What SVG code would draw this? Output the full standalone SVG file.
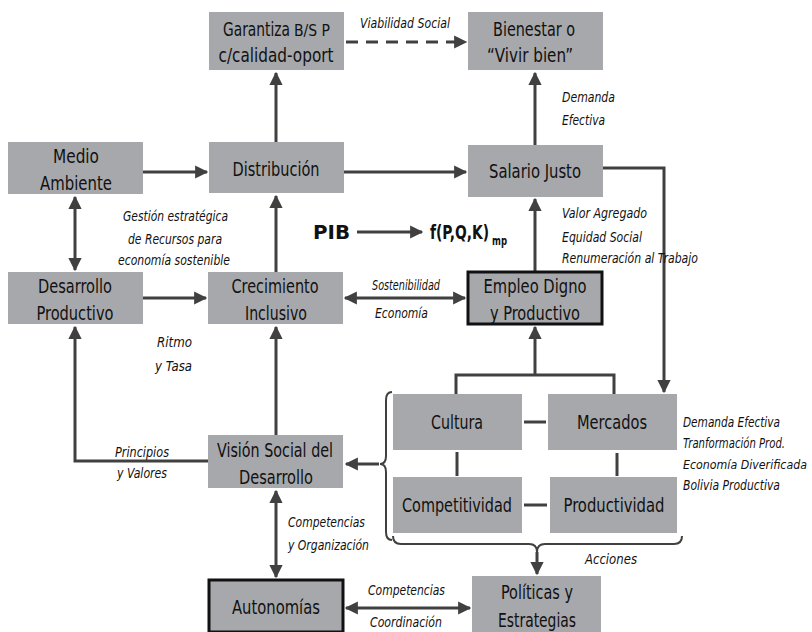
<svg xmlns="http://www.w3.org/2000/svg" width="812" height="632" viewBox="0 0 812 632">
<defs>
<style>
.box{fill:#a7a8ab;}
.thick{stroke:#111;stroke-width:3;}
.bt{font-family:"DejaVu Sans Condensed","DejaVu Sans",sans-serif;font-size:19px;fill:#111;text-anchor:middle;}
.st{text-anchor:start;}
.lb{font-family:"DejaVu Sans Condensed","DejaVu Sans",sans-serif;font-size:13.5px;font-style:italic;fill:#111;}
.bold{font-family:"DejaVu Sans Condensed","DejaVu Sans",sans-serif;font-size:20px;font-weight:bold;fill:#111;}
.ln{fill:none;stroke:#404040;stroke-width:3;}
.br{fill:none;stroke:#404040;stroke-width:2;}
</style>
<marker id="ah" viewBox="0 0 10 10" refX="9" refY="5" markerWidth="5" markerHeight="4.4" orient="auto-start-reverse" markerUnits="strokeWidth">
<path d="M0,0 L10,5 L0,10 Z" fill="#404040"/>
</marker>
</defs>
<rect width="812" height="632" fill="#fff"/>

<g id="connectors">
<line class="ln" x1="346" y1="42" x2="466" y2="42" stroke-dasharray="12,8" marker-end="url(#ah)"/>
<line class="ln" x1="276" y1="142" x2="276" y2="73" marker-end="url(#ah)"/>
<line class="ln" x1="535" y1="145" x2="535" y2="73" marker-end="url(#ah)"/>
<line class="ln" x1="143" y1="172" x2="207" y2="172" marker-end="url(#ah)"/>
<line class="ln" x1="344" y1="172" x2="466" y2="172" marker-end="url(#ah)"/>
<line class="ln" x1="75" y1="197" x2="75" y2="270" marker-start="url(#ah)" marker-end="url(#ah)"/>
<line class="ln" x1="276" y1="272" x2="276" y2="196" marker-end="url(#ah)"/>
<line class="ln" x1="143" y1="298" x2="206" y2="298" marker-end="url(#ah)"/>
<line class="ln" x1="345" y1="298" x2="465" y2="298" marker-start="url(#ah)" marker-end="url(#ah)"/>
<line class="ln" x1="535" y1="271" x2="535" y2="199" marker-end="url(#ah)"/>
<polyline class="ln" points="603,168 664,168 664,392" marker-end="url(#ah)"/>
<line class="ln" x1="357" y1="232" x2="422" y2="232" marker-end="url(#ah)"/>
<line class="ln" x1="535" y1="375" x2="535" y2="327" marker-end="url(#ah)"/>
<polyline class="ln" points="456,394 456,375 614,375 614,394"/>
<line class="ln" x1="524" y1="422" x2="546" y2="422"/>
<line class="ln" x1="457" y1="452" x2="457" y2="476"/>
<line class="ln" x1="617" y1="453" x2="617" y2="476"/>
<line class="ln" x1="524" y1="505" x2="547" y2="505"/>
<path class="br" d="M392,392 Q386,392 386,400 L386,456 Q386,464 380,464 Q386,464 386,472 L386,532 Q386,540 392,540"/>
<line class="ln" x1="379" y1="464" x2="346" y2="464" marker-end="url(#ah)"/>
<path class="br" d="M393,536 Q393,544 401,544 L529,544 Q537,544 537,552 Q537,544 545,544 L674,544 Q682,544 682,536"/>
<line class="ln" x1="537" y1="552" x2="537" y2="574" marker-end="url(#ah)"/>
<line class="ln" x1="276" y1="435" x2="276" y2="327" marker-end="url(#ah)"/>
<polyline class="ln" points="208,461 75,461 75,327" marker-end="url(#ah)"/>
<line class="ln" x1="276" y1="491" x2="276" y2="577" marker-start="url(#ah)" marker-end="url(#ah)"/>
<line class="ln" x1="346" y1="608" x2="470" y2="608" marker-start="url(#ah)" marker-end="url(#ah)"/>
</g>

<g id="garantiza"><rect class="box" x="209" y="12" width="135" height="58"/>
<text class="bt st" x="223" y="36" textLength="67" lengthAdjust="spacingAndGlyphs">Garantiza</text>
<text class="bt st" x="294" y="36" style="font-size:15px" textLength="36" lengthAdjust="spacingAndGlyphs">B/S P</text>
<text class="bt" x="276" y="62" textLength="115" lengthAdjust="spacingAndGlyphs">c/calidad-oport</text></g>
<g id="bienestar"><rect class="box" x="468" y="12" width="135" height="58"/>
<text class="bt" x="534" y="36" textLength="82" lengthAdjust="spacingAndGlyphs">Bienestar o</text>
<text class="bt" x="530" y="62" textLength="86" lengthAdjust="spacingAndGlyphs">“Vivir bien”</text></g>
<g id="medio"><rect class="box" x="8" y="142" width="135" height="52"/>
<text class="bt" x="76" y="163" textLength="46" lengthAdjust="spacingAndGlyphs">Medio</text>
<text class="bt" x="76" y="190" textLength="72" lengthAdjust="spacingAndGlyphs">Ambiente</text></g>
<g id="distribucion"><rect class="box" x="209" y="142" width="135" height="51"/>
<text class="bt" x="276" y="176" textLength="87" lengthAdjust="spacingAndGlyphs">Distribución</text></g>
<g id="salario"><rect class="box" x="468" y="145" width="135" height="52"/>
<text class="bt" x="535" y="178" textLength="92" lengthAdjust="spacingAndGlyphs">Salario Justo</text></g>
<g id="desarrollo"><rect class="box" x="8" y="272" width="135" height="52"/>
<text class="bt" x="75" y="293" textLength="74" lengthAdjust="spacingAndGlyphs">Desarrollo</text>
<text class="bt" x="75" y="320" textLength="77" lengthAdjust="spacingAndGlyphs">Productivo</text></g>
<g id="crecimiento"><rect class="box" x="208" y="272" width="135" height="52"/>
<text class="bt" x="275" y="293" textLength="87" lengthAdjust="spacingAndGlyphs">Crecimiento</text>
<text class="bt" x="276" y="320" textLength="62" lengthAdjust="spacingAndGlyphs">Inclusivo</text></g>
<g id="empleo"><rect class="box thick" x="468" y="272" width="134" height="52"/>
<text class="bt" x="535" y="293" textLength="103" lengthAdjust="spacingAndGlyphs">Empleo Digno</text>
<text class="bt" x="535" y="320" textLength="90" lengthAdjust="spacingAndGlyphs">y Productivo</text></g>
<g id="cultura"><rect class="box" x="393" y="394" width="129" height="56"/>
<text class="bt" x="457" y="429" textLength="52" lengthAdjust="spacingAndGlyphs">Cultura</text></g>
<g id="mercados"><rect class="box" x="548" y="394" width="129" height="56"/>
<text class="bt" x="612" y="429" textLength="70" lengthAdjust="spacingAndGlyphs">Mercados</text></g>
<g id="competitividad"><rect class="box" x="393" y="477" width="129" height="56"/>
<text class="bt" x="457" y="512" textLength="110" lengthAdjust="spacingAndGlyphs">Competitividad</text></g>
<g id="productividad"><rect class="box" x="550" y="477" width="127" height="56"/>
<text class="bt" x="614" y="512" textLength="101" lengthAdjust="spacingAndGlyphs">Productividad</text></g>
<g id="vision"><rect class="box" x="208" y="435" width="135" height="53"/>
<text class="bt" x="275" y="457" textLength="116" lengthAdjust="spacingAndGlyphs">Visión Social del</text>
<text class="bt" x="276" y="484" textLength="74" lengthAdjust="spacingAndGlyphs">Desarrollo</text></g>
<g id="autonomias"><rect class="box thick" x="209" y="580" width="134" height="52"/>
<text class="bt" x="276" y="614" textLength="88" lengthAdjust="spacingAndGlyphs">Autonomías</text></g>
<g id="politicas"><rect class="box" x="472" y="576" width="129" height="56"/>
<text class="bt" x="537" y="599" textLength="72" lengthAdjust="spacingAndGlyphs">Políticas y</text>
<text class="bt" x="537" y="627" textLength="78" lengthAdjust="spacingAndGlyphs">Estrategias</text></g>

<g id="labels">
<text class="lb" x="360" y="28" textLength="90" lengthAdjust="spacingAndGlyphs">Viabilidad Social</text>
<text class="lb" x="562" y="102" textLength="53" lengthAdjust="spacingAndGlyphs">Demanda</text>
<text class="lb" x="562" y="125" textLength="43" lengthAdjust="spacingAndGlyphs">Efectiva</text>
<text class="lb" x="123" y="221" textLength="105" lengthAdjust="spacingAndGlyphs">Gestión estratégica</text>
<text class="lb" x="128" y="244" textLength="94" lengthAdjust="spacingAndGlyphs">de Recursos para</text>
<text class="lb" x="118" y="265" textLength="112" lengthAdjust="spacingAndGlyphs">economía sostenible</text>
<text class="bold" x="313" y="239" textLength="37" lengthAdjust="spacingAndGlyphs">PIB</text>
<text class="bold" x="430" y="239" textLength="59" lengthAdjust="spacingAndGlyphs">f(P,Q,K)</text>
<text class="bold" x="492" y="245" style="font-size:12px" textLength="15" lengthAdjust="spacingAndGlyphs">mp</text>
<text class="lb" x="562" y="218" textLength="85" lengthAdjust="spacingAndGlyphs">Valor Agregado</text>
<text class="lb" x="562" y="242" textLength="80" lengthAdjust="spacingAndGlyphs">Equidad Social</text>
<text class="lb" x="562" y="263" textLength="136" lengthAdjust="spacingAndGlyphs">Renumeración al Trabajo</text>
<text class="lb" x="372" y="290" textLength="68" lengthAdjust="spacingAndGlyphs">Sostenibilidad</text>
<text class="lb" x="375" y="318" textLength="53" lengthAdjust="spacingAndGlyphs">Economía</text>
<text class="lb" x="157" y="347" textLength="35" lengthAdjust="spacingAndGlyphs">Ritmo</text>
<text class="lb" x="155" y="371" textLength="37" lengthAdjust="spacingAndGlyphs">y Tasa</text>
<text class="lb" x="115" y="457" textLength="54" lengthAdjust="spacingAndGlyphs">Principios</text>
<text class="lb" x="117" y="478" textLength="50" lengthAdjust="spacingAndGlyphs">y Valores</text>
<text class="lb" x="288" y="527" textLength="77" lengthAdjust="spacingAndGlyphs">Competencias</text>
<text class="lb" x="288" y="550" textLength="81" lengthAdjust="spacingAndGlyphs">y Organización</text>
<text class="lb" x="683" y="427" textLength="97" lengthAdjust="spacingAndGlyphs">Demanda Efectiva</text>
<text class="lb" x="683" y="448" textLength="102" lengthAdjust="spacingAndGlyphs">Tranformación Prod.</text>
<text class="lb" x="683" y="469" style="font-size:12.5px" textLength="124" lengthAdjust="spacingAndGlyphs">Economía Diverificada</text>
<text class="lb" x="683" y="490" textLength="97" lengthAdjust="spacingAndGlyphs">Bolivia Productiva</text>
<text class="lb" x="585" y="564" textLength="52" lengthAdjust="spacingAndGlyphs">Acciones</text>
<text class="lb" x="368" y="595" textLength="77" lengthAdjust="spacingAndGlyphs">Competencias</text>
<text class="lb" x="370" y="627" textLength="72" lengthAdjust="spacingAndGlyphs">Coordinación</text>
</g>
</svg>
